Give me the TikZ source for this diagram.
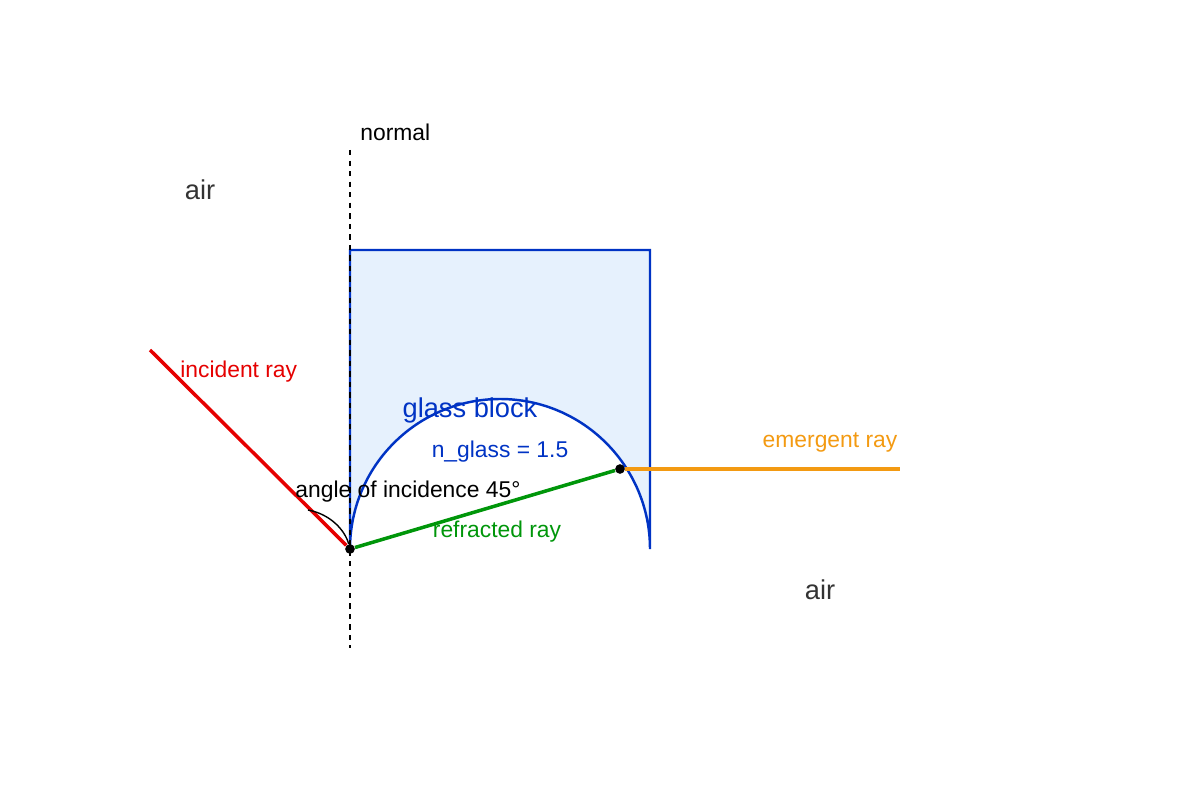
\documentclass[tikz,border=0pt]{standalone}
\usepackage{fontspec}
\setmainfont{Liberation Sans}
\usetikzlibrary{positioning}
\definecolor{glassblue}{HTML}{0033C4}
\definecolor{glassfill}{HTML}{E6F1FD}
\definecolor{raygreen}{HTML}{00960A}
\definecolor{rayorange}{HTML}{F39A12}
\definecolor{airgray}{HTML}{333333}
\tikzset{
x=0.02cm, y=-0.02cm, % one unit is one pixel of the sketch
ray/.style={line width=2pt}, % the light rays
dot/.style={circle, fill=black, inner sep=0pt, minimum size=5.5pt}, % the points where the ray meets a face
lbl/.style={font=\fontsize{13}{15}\selectfont, inner sep=0pt}, % small labels
big/.style={font=\fontsize{15.5}{18}\selectfont, inner sep=0pt}, % bigger labels
}
\begin{document}
\begin{tikzpicture}
    \useasboundingbox (0,0) rectangle (1200,800);
    % glass block with the half-disc cut out
    \fill[glassfill] (350,549) -- (350,250) -- (650,250) -- (650,549) arc[start angle=0, end angle=-180, radius=150] -- cycle;
    \draw[glassblue, line width=1.4pt] (350,549) -- (350,250) -- (650,250) -- (650,549) arc[start angle=0, end angle=-180, radius=150];

    % normal
    \coordinate (top) at (350,150);
    \coordinate (bottom) at (350,648);
    \draw[dashed, line width=0.8pt] (top) -- (bottom);
    \node[lbl, anchor=west] (normal) at (360,132) {normal};

    % rays
    \node[dot] (in) at (350,549) {};
    \node[dot] (out) at (620,469) {};
    \coordinate (start) at (150,350);
    \coordinate (end) at (900,469);
    \draw[ray, red!90!black] (start) -- (in);
    \draw[ray, raygreen] (in) -- (out);
    \draw[ray, rayorange] (out) -- (end);

    % angle mark
    \coordinate (mark) at (308,510);
    \draw[line width=0.8pt] (mark) .. controls (330,514) and (345,530) .. (in);

    % labels
    \node[big, airgray] (air1) at (200,190) {air};
    \node[big, airgray] (air2) at (820,590) {air};
    \node[lbl, red!90!black, anchor=west] (inlbl) at (180,372) {incident ray};
    \node[big, glassblue] (glass) at (470,410) {glass block};
    \node[lbl, glassblue] (index) at (500,452) {n\_glass = 1.5};
    \node[lbl] (angle) at (408,492) {angle of incidence 45°};
    \node[lbl, raygreen] (reflbl) at (497,532) {refracted ray};
    \node[lbl, rayorange] (emlbl) at (830,442) {emergent ray};
\end{tikzpicture}
\end{document}
